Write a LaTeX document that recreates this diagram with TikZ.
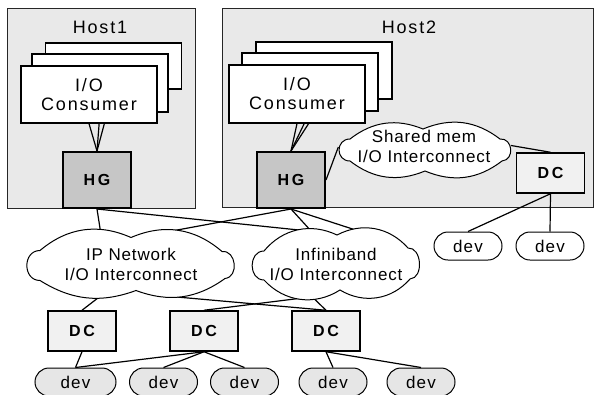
\documentclass[tikz,border=0pt]{standalone}
\usepackage{fontspec}
\setmainfont{Liberation Sans}
\newfontfamily\fhost[LetterSpace=10]{Liberation Sans}
\newfontfamily\fcloud[LetterSpace=5]{Liberation Sans}
\newfontfamily\fbx[LetterSpace=16]{Liberation Sans}
\newfontfamily\fdev[LetterSpace=7]{Liberation Sans}
\usetikzlibrary{shapes.geometric}
\definecolor{hostgray}{HTML}{E9E9E9}
\definecolor{hggray}{HTML}{C6C6C6}
\definecolor{dcgray}{HTML}{F1F1F1}
\definecolor{devgray}{HTML}{E6E6E6}
\pgfdeclarelayer{back}
\pgfdeclarelayer{mid}
\pgfsetlayers{back,mid,main}
\begin{document}
\begin{tikzpicture}[x=1pt,y=-1pt,
  host/.style={draw=black!85, fill=hostgray, line width=1pt, inner sep=0},
  lbl/.style={inner sep=0, font=\fhost\fontsize{18}{21}\selectfont},
  cons/.style={draw, fill=white, line width=1.2pt, minimum width=136, inner sep=0,
    align=center, font=\fhost\fontsize{18}{19}\selectfont},
  hg/.style={draw, fill=hggray, line width=2pt, minimum width=68, minimum height=56,
    inner sep=0, font=\fbx\bfseries\fontsize{16}{18}\selectfont},
  dcbox/.style={draw, fill=dcgray, line width=1.5pt, minimum width=68, minimum height=40,
    inner sep=0, font=\fbx\bfseries\fontsize{16}{18}\selectfont},
  devbox/.style={draw, fill=devgray, line width=1pt, rounded corners=14pt,
    minimum width=68, minimum height=28, inner sep=0, font=\fdev\fontsize{17}{20}\selectfont},
  cloudarea/.style={ellipse, inner sep=0},
  cloudline/.style={draw, fill=white, line width=1pt},
  cloudtxt/.style={inner sep=0, align=center, font=\fcloud\fontsize{17}{20}\selectfont},
  conn/.style={line width=1.2pt}
]
\useasboundingbox (0,0) rectangle (594,394);
\clip (0,0) rectangle (594,394);

% hosts
\begin{pgfonlayer}{back}
\node[host, minimum width=188, minimum height=200] (host1) at (101,108) {};
\node[host, minimum width=371, minimum height=199] (host2) at (407.5,107.5) {};
\end{pgfonlayer}
\node[lbl] (h1lbl) at (100,27) {Host1};
\node[lbl] (h2lbl) at (409,27) {Host2};

% host1 consumers
\node[cons, minimum height=46] (c1a) at (113.5,66) {};
\node[cons, minimum height=58] (c1b) at (100,83) {};
\node[cons, minimum height=57] (c1c) at (89,94.5) {I/O\\Consumer};
% host2 consumers
\node[cons, minimum height=57] (c2a) at (324,70.5) {};
\node[cons, minimum height=58] (c2b) at (310,82) {};
\node[cons, minimum height=58] (c2c) at (297,94) {I/O\\Consumer};

% HGs
\node[hg] (hg1) at (97,180) {HG};
\node[hg] (hg2) at (291,180) {HG};

% clouds: anchor areas
\node[cloudarea, minimum width=208, minimum height=65] (ip) at (131,264.5) {};
\node[cloudarea, minimum width=168, minimum height=68] (ib) at (336,264) {};
\node[cloudarea, minimum width=174, minimum height=54] (sm) at (425,150) {};

% cloud outlines
\path[cloudline, shift={(ip.center)}]
  (-91,-14) to[bend left=32] (0,-27) to[bend left=32] (91,-13)
  to[bend left=90, looseness=1.35] (94,14) to[bend left=28] (5,26)
  to[bend left=26] (-91,16) to[bend left=90, looseness=1.5] (-91,-14) -- cycle;
\path[cloudline, shift={(ib.center)}]
  (-72,-13) to[bend left=38] (1,-29) to[bend left=38] (72,-16)
  to[bend left=90, looseness=1.15] (74,15) to[bend left=40] (4,26)
  to[bend left=40] (-72,16) to[bend left=90, looseness=1.4] (-72,-13) -- cycle;
\path[cloudline, shift={(sm.center)}]
  (-75,-11) to[bend left=30] (-2,-21) to[bend left=30] (75,-11)
  to[bend left=90, looseness=1.5] (77,11) to[bend left=30] (0,21)
  to[bend left=30] (-75,11) to[bend left=90, looseness=1.7] (-75,-11) -- cycle;

\node[cloudtxt] (iptxt) at (131,264) {IP Network\\I/O Interconnect};
\node[cloudtxt] (ibtxt) at (336,264) {Infiniband\\I/O Interconnect};
\node[cloudtxt] (smtxt) at (424,146) {Shared mem\\I/O Interconnect};

% DCs
\node[dcbox] (dch) at (550.5,173) {DC};
\node[dcbox] (dc1) at (82,331) {DC};
\node[dcbox] (dc2) at (204,331) {DC};
\node[dcbox] (dc3) at (326,331) {DC};

% devs
\node[devbox, fill=white] (dha) at (468,246) {dev};
\node[devbox, fill=white] (dhb) at (550,246) {dev};
\node[devbox, minimum width=81] (d1) at (75.5,382) {dev};
\node[devbox] (d2) at (163.5,382) {dev};
\node[devbox] (d3) at (244.5,382) {dev};
\node[devbox] (d4) at (333,382) {dev};
\node[devbox] (d5) at (421,382) {dev};

% connectors
\begin{pgfonlayer}{mid}
\draw[conn] (c1a.south) -- (hg1.north);
\draw[conn] (c1b.south) -- (hg1.north);
\draw[conn] (c1c.south) -- (hg1.north);
\draw[conn] (c2a.south) -- (hg2.north);
\draw[conn] (c2b.south) -- (hg2.north);
\draw[conn] (c2c.south) -- (hg2.north);
\draw[conn] (hg2.east) -- (sm.178);
\draw[conn] (sm.3) -- (dch.north);
\draw[conn] (hg1.south) -- (ip.134);
\draw[conn] (hg1.south) -- (ib.127);
\draw[conn] (hg2.south) -- (ip.47);
\draw[conn] (hg2.south) -- (ib.127);
\draw[conn] (hg2.south) -- (ib.55);
\draw[conn] (ip.226) -- (dc1.north);
\draw[conn] (ip.315) -- (dc3.north);
\draw[conn] (ib.234) -- (dc2.north);
\draw[conn] (ib.234) -- (dc3.north);
\end{pgfonlayer}
\draw[conn] (dch.south) -- (dha.north);
\draw[conn] (dch.south) -- (dhb.north);
\draw[conn] (dc1.south) -- (d1.north);
\draw[conn] (dc2.south) -- (d1.north);
\draw[conn] (dc2.south) -- (d2.north);
\draw[conn] (dc2.south) -- (d3.north);
\draw[conn] (dc3.south) -- (d4.north);
\draw[conn] (dc3.south) -- (d5.north);
\end{tikzpicture}
\end{document}
